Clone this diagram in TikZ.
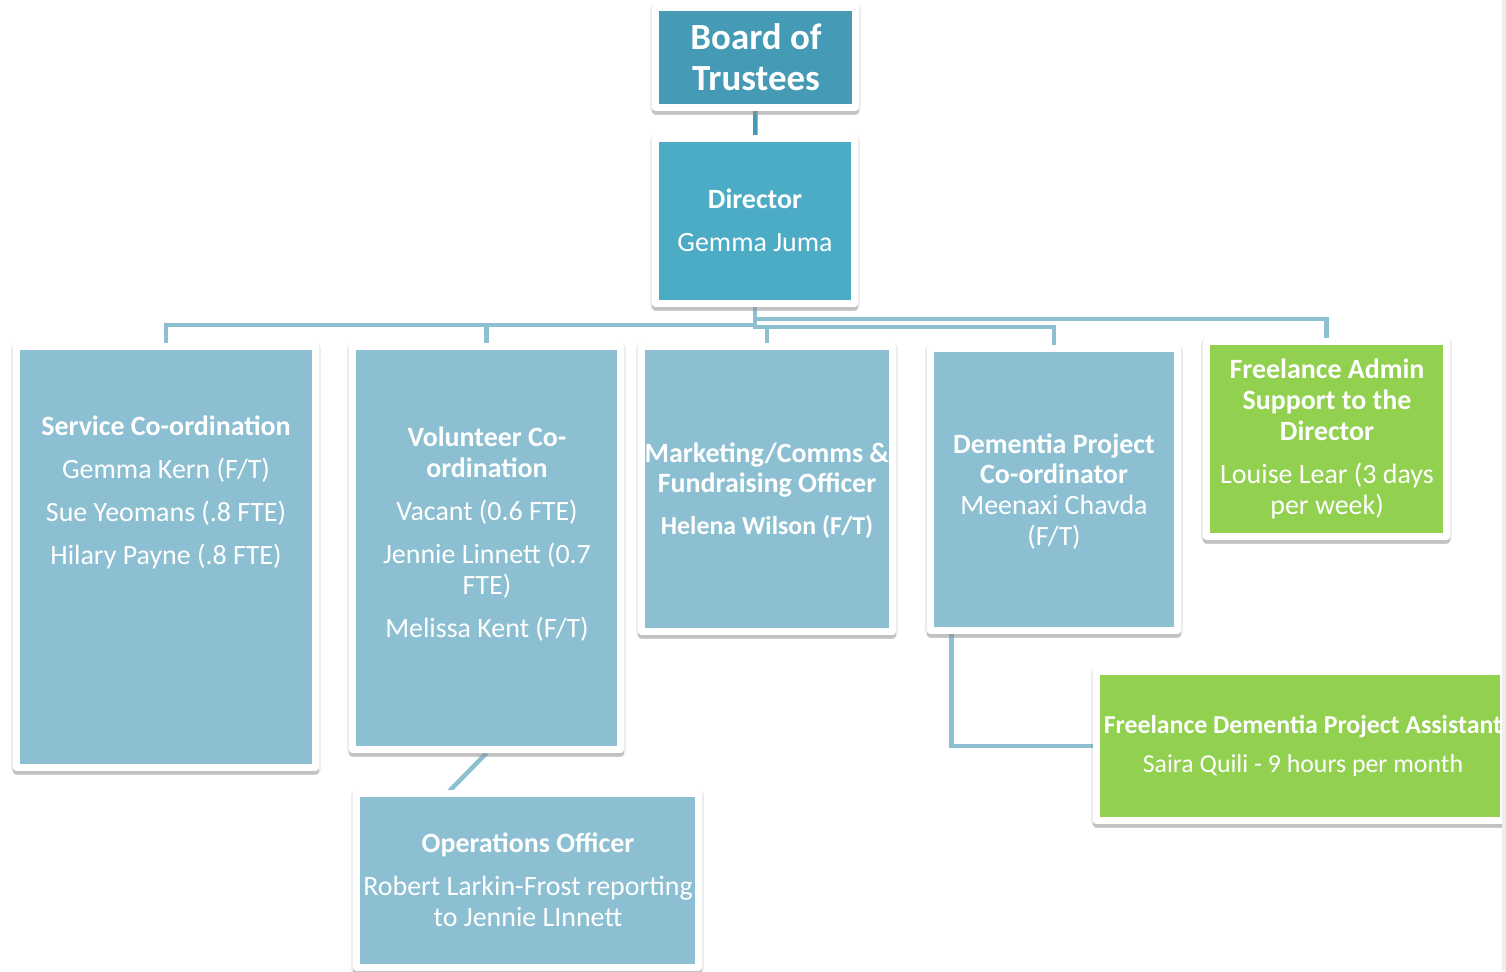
\documentclass[tikz,border=0pt]{standalone}
\usepackage{fontspec}
\setmainfont{Carlito}
\usetikzlibrary{shadows,calc}
\definecolor{trustee}{RGB}{69,155,181}
\definecolor{aqua}{RGB}{76,172,198}
\definecolor{paleaqua}{RGB}{139,191,209}
\definecolor{lime}{RGB}{146,208,80}
\pgfdeclarelayer{background}
\pgfsetlayers{background,main}

\begin{document}
\begin{tikzpicture}[x=0.02cm,y=-0.02cm,line join=round,
  orgbox/.style={draw=white,line width=0.14cm,inner sep=0,
    general shadow={shadow yshift=-0.8pt,fill=black,draw=black,
      line width=0.21cm,line join=round,opacity=0.07},
    general shadow={shadow xshift=0.2pt,shadow yshift=-2.2pt,fill=black!40,draw=black!40,
      line width=0.14cm,line join=round,opacity=0.5}},
  boxsize/.style 2 args={minimum width=#1*0.02cm,minimum height=#2*0.02cm},
  link/.style={paleaqua,line width=0.09cm},
  lbl/.style={text=white,align=center,inner sep=0,font=\fontsize{15.9}{17.6}\selectfont},
  biglbl/.style={lbl,font=\fontsize{21}{23.2}\selectfont\bfseries},
  smalllbl/.style={lbl,font=\fontsize{14.7}{16.2}\selectfont}]
  \useasboundingbox (0,0) rectangle (1506,971);
  \node[orgbox,fill=trustee,boxsize={200}{100}] (board) at (755.5,57.5) {};
  \node[orgbox,fill=aqua,boxsize={199}{165}] (director) at (755,221) {};
  \node[orgbox,fill=paleaqua,boxsize={299}{421}] (service) at (166,557) {};
  \node[orgbox,fill=paleaqua,boxsize={268}{403}] (volunteer) at (486.5,548) {};
  \node[orgbox,fill=paleaqua,boxsize={251}{285}] (marketing) at (767,489) {};
  \node[orgbox,fill=paleaqua,boxsize={247}{282}] (dementia) at (1054,489.5) {};
  \node[orgbox,fill=lime,boxsize={240}{195}] (admin) at (1326.5,439) {};
  \node[orgbox,fill=paleaqua,boxsize={342}{174}] (operations) at (527.5,880.5) {};
  \node[orgbox,fill=lime,boxsize={407}{149}] (assistant) at (1300,746) {};
  \coordinate (opsin) at (447,793.5);
  \begin{pgfonlayer}{background}
    \draw[link,trustee] (board) -- (director);
    \foreach \kid/\yy in {service/325,volunteer/325,marketing/327,dementia/327,admin/319}
      \draw[link] (director.south) -- (director.south |- 0,\yy) -| (\kid.north);
    \draw[link] (volunteer.south) -- (opsin);
    \draw[link] (dementia.south west) ++(24.5,0) |- (assistant.west);
  \end{pgfonlayer}
  \node[biglbl] (boardtxt) at (756,57.5) {Board of\\Trustees};
  \node[lbl] (directortxt) at (755,220.5) {\textbf{Director}\\[6.8pt]Gemma Juma};
  \node[lbl] (servicetxt) at (166,492.5) {\textbf{Service Co-ordination}\\[6.8pt]Gemma Kern (F/T)\\[6.8pt]Sue Yeomans (.8 FTE)\\[6.8pt]Hilary Payne (.8 FTE)};
  \node[lbl] (volunteertxt) at (487,534) {\textbf{Volunteer Co-}\\\textbf{ordination}\\[6.8pt]Vacant (0.6 FTE)\\[6.8pt]Jennie Linnett (0.7\\FTE)\\[6.8pt]Melissa Kent (F/T)};
  \node[lbl] (marketingtxt) at (767,490.5) {\textbf{Marketing/Comms \&}\\\textbf{Fundraising Officer}\\[6.2pt]{\fontsize{14.7}{16.2}\selectfont\bfseries Helena Wilson (F/T)}};
  \node[lbl] (dementiatxt) at (1054,491.5) {\textbf{Dementia Project}\\\textbf{Co-ordinator}\\Meenaxi Chavda\\(F/T)};
  \node[lbl] (admintxt) at (1327,439) {\textbf{Freelance Admin}\\\textbf{Support to the}\\\textbf{Director}\\[6.8pt]Louise Lear (3 days\\per week)};
  \node[lbl] (operationstxt) at (528,880) {\textbf{Operations Officer}\\[6.8pt]Robert Larkin-Frost reporting\\to Jennie LInnett};
  \node[smalllbl] (assistanttxt) at (1303,746) {\textbf{Freelance Dementia Project Assistant}\\[6.5pt]Saira Quili - 9 hours per month};
  \fill[black!7] (1502,0) rectangle (1506,971);
\end{tikzpicture}
\end{document}
